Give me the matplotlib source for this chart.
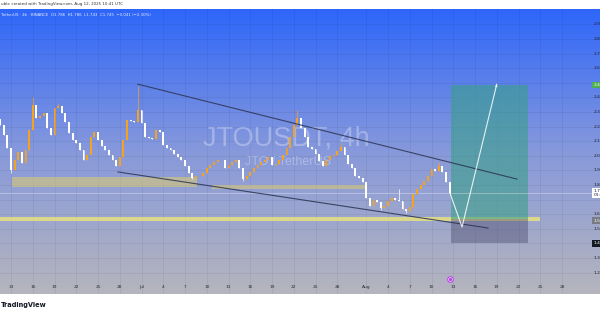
import numpy as np
import pandas as pd
import matplotlib
matplotlib.use('Agg')
import matplotlib.pyplot as plt
import matplotlib.dates as mdates
import matplotlib.transforms as mtransforms
from matplotlib.colors import LinearSegmentedColormap
from matplotlib.patches import Rectangle

inicio = '2025-06-11 12:00'
fechamentos = [
    2.211, 2.142, 2.053, 1.903, 1.971, 2.026, 1.951, 2.040, 2.177, 2.348,
    2.259, 2.270, 2.293, 2.190, 2.142, 2.327, 2.341, 2.293, 2.232, 2.156,
    2.108, 2.088, 2.040, 1.971, 2.005, 2.129, 2.163, 2.108, 2.067, 2.040,
    2.005, 1.971, 1.930, 1.992, 2.108, 2.245, 2.240, 2.232, 2.314, 2.225,
    2.129, 2.122, 2.118, 2.177, 2.163, 2.074, 2.053, 2.040, 2.012, 1.992,
    1.971, 1.930, 1.882, 1.848, 1.862, 1.858, 1.882, 1.916, 1.937, 1.958,
    1.971, 1.968, 1.916, 1.937, 1.958, 1.971, 1.916, 1.841, 1.862, 1.889,
    1.916, 1.937, 1.958, 1.971, 1.992, 1.937, 1.940, 1.971, 2.005, 2.053,
    2.129, 2.211, 2.259, 2.190, 2.129, 2.060, 2.047, 2.012, 1.964, 1.930,
    1.971, 1.999, 2.005, 2.033, 2.060, 2.005, 1.944, 1.916, 1.862, 1.848,
    1.821, 1.711, 1.656, 1.697, 1.684, 1.642, 1.656, 1.690, 1.711, 1.697,
    1.690, 1.636, 1.622, 1.649, 1.738, 1.773, 1.800, 1.827, 1.862, 1.910,
    1.896, 1.930, 1.889, 1.821, 1.745,
]
aberturaInicial = 2.25
maximasPavio = {9: 2.40, 16: 2.36, 38: 2.48, 82: 2.31, 94: 2.09, 110: 1.77, 121: 1.96}
minimasPavio = {3: 1.88, 53: 1.84, 67: 1.83, 105: 1.63, 112: 1.61}

datasTicks = ['2025-06-13', '2025-06-16', '2025-06-19', '2025-06-22', '2025-06-25',
              '2025-06-28', '2025-07-01', '2025-07-04', '2025-07-07', '2025-07-10',
              '2025-07-13', '2025-07-16', '2025-07-19', '2025-07-22', '2025-07-25',
              '2025-07-28', '2025-08-01', '2025-08-04', '2025-08-07', '2025-08-10',
              '2025-08-13', '2025-08-16', '2025-08-19', '2025-08-22', '2025-08-25',
              '2025-08-28']
rotulosTicks = ['13', '16', '19', '22', '25', '28', 'Jul', '4', '7', '10', '13', '16',
                '19', '22', '25', '28', 'Aug', '4', '7', '10', '13', '16', '19', '22',
                '25', '28']
# a escala de precos esta cortada na borda: so aparece o inicio de cada rotulo
precosTicks = [1.2, 1.3, 1.4, 1.5, 1.6, 1.7, 1.8, 1.9, 2.0, 2.1, 2.2, 2.3, 2.4, 2.5,
               2.6, 2.7, 2.8, 2.9]
precosEscondidos = [1.7, 2.5]

# desenhos feitos no grafico
canalSuperiorDatas = ['2025-06-30 12:00', '2025-08-21 19:00']
canalSuperiorPrecos = [2.49, 1.84]
canalInferiorDatas = ['2025-06-27 18:00', '2025-08-17 19:00']
canalInferiorPrecos = [1.889, 1.505]
zonasDatas = [('2025-06-13 03:00', '2025-07-08 17:00'),
              ('2025-07-10 17:00', '2025-08-01 02:00'),
              ('2025-06-11 12:00', '2025-08-25 00:00')]
zonasPrecos = [(1.786, 1.855), (1.773, 1.800), (1.553, 1.581)]
posicaoDatas = ['2025-08-12 16:00', '2025-08-23 07:00']
posicaoAlvo = 2.485
posicaoEntrada = 1.565
posicaoStop = 1.40
projecaoDatas = ['2025-08-12 13:00', '2025-08-14 05:00', '2025-08-19 00:00']
projecaoPrecos = [1.745, 1.512, 2.49]
precoAtual = 1.745


def num(d):
    return mdates.date2num(pd.Timestamp(d).to_pydatetime())


tempos = pd.date_range(inicio, periods=len(fechamentos), freq='12h')
xs = mdates.date2num(tempos.to_pydatetime())
aberturas = [aberturaInicial] + fechamentos[:-1]

corAlta = '#f5a21f'
corBaixa = '#ffffff'
cores, bases, alturas, maximas, minimas = [], [], [], [], []
for i, (a, f) in enumerate(zip(aberturas, fechamentos)):
    cores.append(corAlta if f >= a else corBaixa)
    bases.append(min(a, f))
    alturas.append(max(abs(f - a), 0.004))
    maximas.append(maximasPavio.get(i, max(a, f)))
    minimas.append(minimasPavio.get(i, min(a, f)))

fig = plt.figure(figsize=(6, 3.15), dpi=100)
fig.patch.set_facecolor('white')
ax = fig.add_axes([0, 21 / 315, 1, 285 / 315])
ax.set_axis_off()

# fundo em degrade azul -> cinza
degrade = LinearSegmentedColormap.from_list(
    'fundo', [(0.0, (0.71, 0.71, 0.74)), (0.5, (0.53, 0.60, 0.86)), (1.0, (0.18, 0.40, 0.98))])
ax.imshow(np.linspace(0, 1, 256).reshape(-1, 1)[::-1], extent=[0, 1, 0, 1],
          transform=ax.transAxes, aspect='auto', cmap=degrade, zorder=0)

for d in datasTicks:
    ax.axvline(num(d), color='black', alpha=0.06, lw=0.6, zorder=1)
for p in precosTicks:
    ax.axhline(p, color='black', alpha=0.06, lw=0.6, zorder=1)

# marca d'agua
ax.text(0.478, 0.547, 'JTOUSDT, 4h', transform=ax.transAxes, ha='center', va='center',
        fontsize=19.5, family='Liberation Sans', color='white', alpha=0.3, zorder=2)
ax.text(0.48, 0.463, 'JTO / TetherUS', transform=ax.transAxes, ha='center', va='center',
        fontsize=9, family='Liberation Sans', color='white', alpha=0.3, zorder=2)

# zonas
coresZonas = [('#d8c878', 0.6), ('#d8c878', 0.6), ('#ece47a', 0.8)]
for (d0, d1), (p0, p1), (cor, alfa) in zip(zonasDatas, zonasPrecos, coresZonas):
    ax.add_patch(Rectangle((num(d0), p0), num(d1) - num(d0), p1 - p0,
                           facecolor=cor, alpha=alfa, lw=0, zorder=3))

# posicao comprada
larguraPos = num(posicaoDatas[1]) - num(posicaoDatas[0])
ax.add_patch(Rectangle((num(posicaoDatas[0]), posicaoEntrada), larguraPos,
                       posicaoAlvo - posicaoEntrada, facecolor='#3aa08a', alpha=0.6, lw=0, zorder=3))
ax.add_patch(Rectangle((num(posicaoDatas[0]), posicaoStop), larguraPos,
                       posicaoEntrada - posicaoStop, facecolor='#505070', alpha=0.45, lw=0, zorder=3))

ax.axhline(precoAtual, color='white', alpha=0.45, lw=0.5, zorder=3)

# candles
ax.vlines(xs, minimas, maximas, colors=cores, lw=0.5, zorder=4)
ax.bar(xs, alturas, bottom=bases, width=0.26, color=cores, lw=0, zorder=5)

# linhas do canal e projecao
ax.plot([num(d) for d in canalSuperiorDatas], canalSuperiorPrecos, color='#2a3350', lw=0.8, alpha=0.85, zorder=6)
ax.plot([num(d) for d in canalInferiorDatas], canalInferiorPrecos, color='#2a3350', lw=0.8, alpha=0.85, zorder=6)
ax.plot([num(d) for d in projecaoDatas], projecaoPrecos, color='white', lw=0.8, alpha=0.85, zorder=6)
ax.annotate('', xy=(num(projecaoDatas[2]), projecaoPrecos[2]),
            xytext=(num(projecaoDatas[1]), projecaoPrecos[1]),
            arrowprops=dict(arrowstyle='-|>', color='white', lw=0, alpha=0.85,
                            mutation_scale=5, shrinkA=0, shrinkB=0), zorder=6)

# eixo de precos (so o inicio de cada rotulo cabe na imagem)
transPreco = mtransforms.blended_transform_factory(ax.transAxes, ax.transData)
for p in precosTicks:
    if p in precosEscondidos:
        continue
    ax.text(0.99, p, f'{p:.1f}', transform=transPreco, ha='left', va='center',
            fontsize=3.2, color='#1e2030', zorder=7)
rotulosCaixa = [(posicaoAlvo, '2.4', '#4caf50', 'white'),
                (precoAtual, '1.7\n01:', 'white', '#1e2030'),
                (1.555, '1.5', '#787b86', 'white'),
                (posicaoStop, '1.4', '#131722', 'white')]
for p, txt, fundo, corTxt in rotulosCaixa:
    ax.text(0.989, p, txt, transform=transPreco, ha='left', va='center', fontsize=3.2,
            color=corTxt, linespacing=1.0, zorder=8,
            bbox=dict(boxstyle='square,pad=0.3', fc=fundo, ec='none'))

# eixo de tempo
transTempo = mtransforms.blended_transform_factory(ax.transData, ax.transAxes)
for d, r in zip(datasTicks, rotulosTicks):
    ax.text(num(d), 0.024, r, transform=transTempo, ha='center', va='center',
            fontsize=3.2, color='#2a2e39', zorder=7)
ax.scatter([num('2025-08-12 13:00')], [0.053], transform=transTempo, s=16,
           facecolor='white', edgecolor='#b845e6', lw=0.8, zorder=8)
ax.scatter([num('2025-08-12 13:00')], [0.053], transform=transTempo, s=2,
           color='#b845e6', zorder=9)

ax.set_xlim(num('2025-06-13') - 1.52, num('2025-06-13') + 81.24)
ax.set_ylim(1.053, 3.005)

# cabecalhos
fig.text(0.002, 1 - 4.5 / 315, 'ubtc created with TradingView.com, Aug 12, 2025 10:41 UTC',
         fontsize=2.9, color='#333333', va='center', ha='left')
fig.text(0.002, 1 - 15 / 315,
         'TetherUS · 4h · BINANCE  O1.786  H1.786  L1.743  C1.745  \u22120.041 (\u22122.30%)',
         fontsize=2.8, color='#e8ecff', va='center', ha='left')
fig.text(0.001, 1 - 304.5 / 315, 'TradingView', fontsize=4.8, fontweight='bold',
         color='#131722', va='center', ha='left')

fig.savefig('out.png', dpi=100, facecolor='white')
